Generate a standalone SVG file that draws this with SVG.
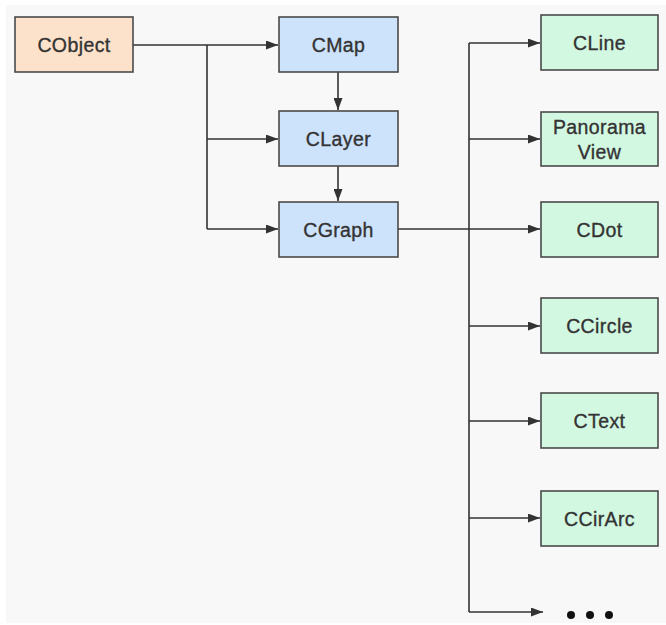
<svg xmlns="http://www.w3.org/2000/svg" width="666" height="625" viewBox="0 0 666 625">
  <style>
    .box { stroke: #4a4a4a; stroke-width: 1.6; }
    .base { fill: #fde2cb; }
    .core { fill: #cde2fb; }
    .leaf { fill: #d3f8e2; }
    .lbl { font-family: "Liberation Sans", Arial, sans-serif; font-size: 19.5px; fill: #333; stroke: #333; stroke-width: 0.35px; text-anchor: middle; letter-spacing: 0.4px; }
    .wire { stroke: #333; stroke-width: 1.6; fill: none; }
  </style>
  <defs>
    <marker id="arrow" markerWidth="12" markerHeight="9" refX="12" refY="4.5" orient="auto" markerUnits="userSpaceOnUse">
      <path d="M0,0 L12,4.5 L0,9 Z" fill="#333"/>
    </marker>
  </defs>

  <rect x="0" y="0" width="666" height="625" fill="#ffffff"/>
  <rect x="6" y="5" width="660" height="618" fill="#f8f8f8"/>

  <g id="connectors">
    <!-- CObject fan-out -->
    <path class="wire" d="M133,45 H278" marker-end="url(#arrow)"/>
    <path class="wire" d="M207,45 V229"/>
    <path class="wire" d="M207,139 H278" marker-end="url(#arrow)"/>
    <path class="wire" d="M207,229 H278" marker-end="url(#arrow)"/>
    <!-- chain CMap -> CLayer -> CGraph -->
    <path class="wire" d="M338,72 V110" marker-end="url(#arrow)"/>
    <path class="wire" d="M338,166 V201" marker-end="url(#arrow)"/>
    <!-- CGraph fan-out -->
    <path class="wire" d="M398,229 H540" marker-end="url(#arrow)"/>
    <path class="wire" d="M469,43 V612"/>
    <path class="wire" d="M469,43 H540" marker-end="url(#arrow)"/>
    <path class="wire" d="M469,139 H540" marker-end="url(#arrow)"/>
    <path class="wire" d="M469,326 H540" marker-end="url(#arrow)"/>
    <path class="wire" d="M469,421 H540" marker-end="url(#arrow)"/>
    <path class="wire" d="M469,518 H540" marker-end="url(#arrow)"/>
    <path class="wire" d="M469,612 H543" marker-end="url(#arrow)"/>
  </g>

  <g id="cobject">
    <rect class="box base" x="15" y="17" width="118" height="55"/>
    <text class="lbl" x="74" y="52">CObject</text>
  </g>
  <g id="cmap">
    <rect class="box core" x="279" y="17" width="119" height="55"/>
    <text class="lbl" x="338.5" y="52">CMap</text>
  </g>
  <g id="clayer">
    <rect class="box core" x="279" y="111" width="119" height="55"/>
    <text class="lbl" x="338.5" y="146">CLayer</text>
  </g>
  <g id="cgraph">
    <rect class="box core" x="279" y="202" width="119" height="55"/>
    <text class="lbl" x="338.5" y="237">CGraph</text>
  </g>

  <g id="cline">
    <rect class="box leaf" x="541" y="15" width="117" height="55"/>
    <text class="lbl" x="599.5" y="50">CLine</text>
  </g>
  <g id="panoramaview">
    <rect class="box leaf" x="541" y="112" width="117" height="54"/>
    <text class="lbl" x="599.5" y="134">Panorama</text>
    <text class="lbl" x="599.5" y="159">View</text>
  </g>
  <g id="cdot">
    <rect class="box leaf" x="541" y="202" width="117" height="55"/>
    <text class="lbl" x="599.5" y="237">CDot</text>
  </g>
  <g id="ccircle">
    <rect class="box leaf" x="541" y="298" width="117" height="55"/>
    <text class="lbl" x="599.5" y="333">CCircle</text>
  </g>
  <g id="ctext">
    <rect class="box leaf" x="541" y="393" width="117" height="55"/>
    <text class="lbl" x="599.5" y="428">CText</text>
  </g>
  <g id="ccirarc">
    <rect class="box leaf" x="541" y="491" width="117" height="55"/>
    <text class="lbl" x="599.5" y="526">CCirArc</text>
  </g>
  <g id="more">
    <circle cx="571" cy="615" r="4" fill="#111"/>
    <circle cx="590" cy="615" r="4" fill="#111"/>
    <circle cx="609" cy="615" r="4" fill="#111"/>
  </g>
</svg>
